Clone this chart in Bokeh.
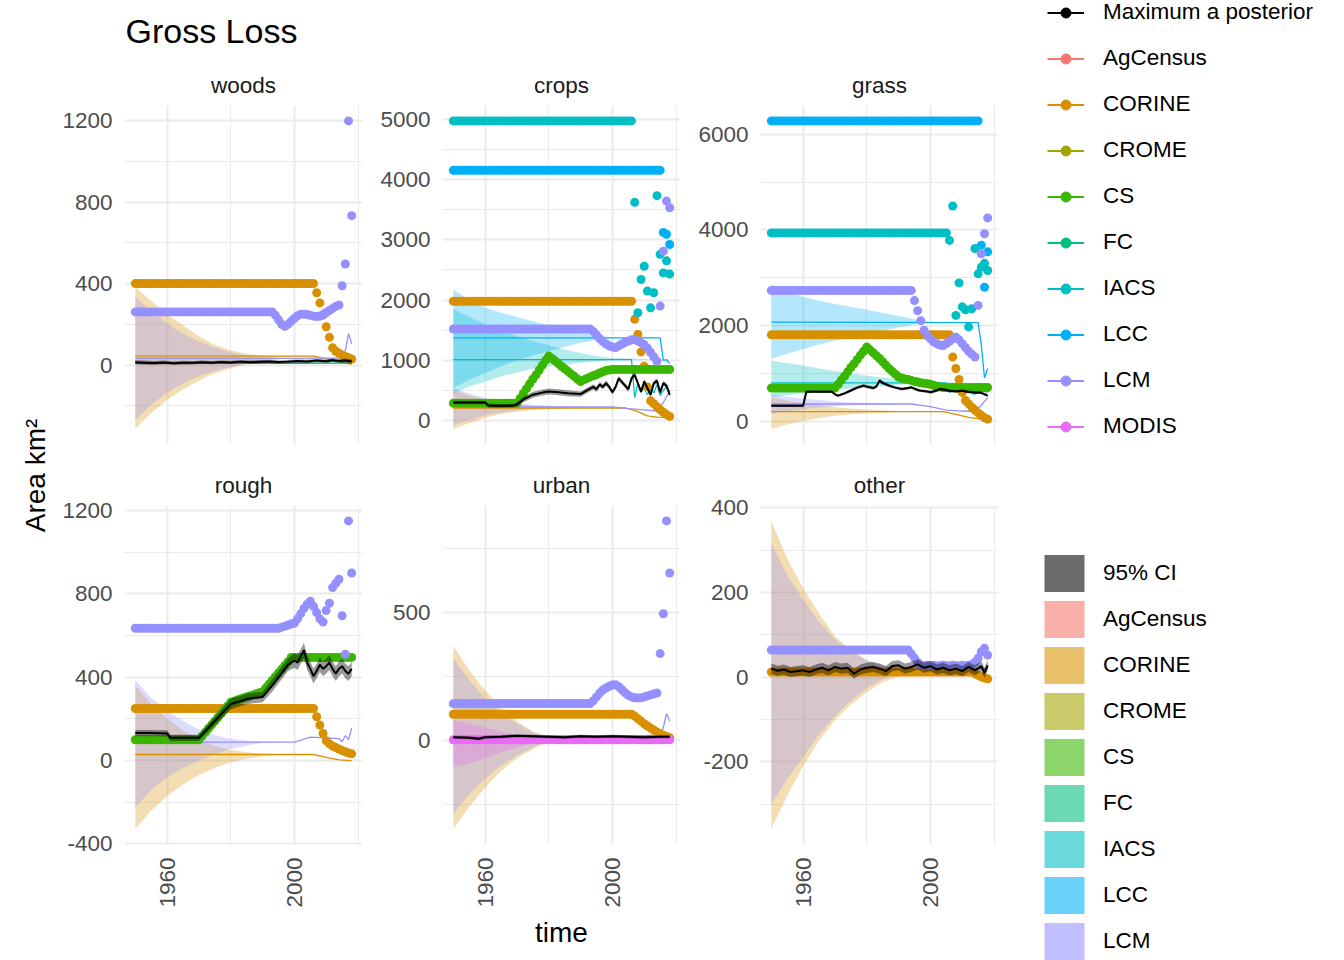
import math
from bokeh.plotting import figure
from bokeh.models import Range1d, FixedTicker, Label, Legend, LegendItem, Title
from bokeh.layouts import row, column
from bokeh.embed import file_html
from bokeh.resources import INLINE

FONT = "Liberation Sans"

# ---------------- data ----------------
SOURCES = ["AgCensus", "CORINE", "CROME", "CS", "FC", "IACS", "LCC", "LCM", "MODIS"]
COLORS = ["#F8766D", "#D89000", "#A3A500", "#39B600", "#00BF7D", "#00BFC4", "#00B0F6", "#9590FF", "#E76BF3"]
FILL_LEGEND = ["95% CI", "AgCensus", "CORINE", "CROME", "CS", "FC", "IACS", "LCC", "LCM"]
PANELS = ["woods", "crops", "grass", "rough", "urban", "other"]
YEARS = list(range(1950, 2019))
RIB_YEARS = [1950, 1955, 1960, 1965, 1970, 1975, 1980, 1985, 1990, 1995, 2000, 2018]
X_TICKS = [1960, 2000]
X_MINOR = [1940, 1980, 2020]

# woods
W_CORINE_PTS = [400] * 57 + [355, 305, 245, 188, 136, 85, 68, 58, 49, 42, 36, 30]
W_LCM_PTS = [261] * 44 + [245, 222, 200, 190, 200, 215, 230, 242, 250, 250, 248, 244, 240, 238,
                          240, 248, 258, 268, 278, 288, 295] + [389, 496, 1198, 733]
W_CORINE_LN_YR = [1950, 2006, 2008, 2011, 2014, 2016, 2018]
W_CORINE_LN = [44, 44, 38, 28, 18, 10, 5]
W_LCM_LN_YR = [1950, 2000, 2014, 2015, 2016, 2017, 2018]
W_LCM_LN = [33, 33, 35, 40, 70, 155, 105]
W_FC_LN_YR = [1950, 1980, 2000, 2018]
W_FC_LN = [8, 8, 9, 10]
W_CORINE_RIB_LO = [-314, -235, -170, -120, -75, -40, -15, 5, 25, 38, 44, 44]
W_CORINE_RIB_HI = [383, 315, 250, 195, 140, 98, 72, 56, 48, 45, 44, 44]
W_LCM_RIB_LO = [-270, -195, -135, -90, -55, -28, -10, 5, 18, 28, 33, 33]
W_LCM_RIB_HI = [335, 265, 205, 155, 115, 85, 62, 48, 40, 35, 33, 33]
W_MAP_YR = [1950, 1953, 1956, 1959, 1962, 1965, 1968, 1971, 1974, 1977, 1980, 1983, 1986, 1989,
            1992, 1995, 1998, 2001, 2004, 2007, 2010, 2012, 2014, 2016, 2018]
W_MAP = [14, 12, 10, 13, 9, 12, 11, 14, 12, 15, 13, 17, 14, 16, 18, 15, 17, 20, 18, 22, 19, 24, 20, 22, 18]
W_MAP_CI = [10, 10, 10, 9, 9, 9, 8, 8, 8, 8, 8, 8, 8, 8, 8, 8, 8, 8, 8, 8, 9, 9, 10, 10, 10]

# crops
C_IACS_PTS = [4970] * 57 + [3620, 1790, 2340, 2560, 2150, 1870, 2120, 3730, 2760, 2450, 2650, 2430]
C_LCC_PTS = [4150] * 66 + [3120, 3090, 2920]
C_LCM_PTS = [1520] * 44 + [1480, 1420, 1360, 1310, 1270, 1240, 1220, 1210, 1240, 1270, 1300, 1320,
                           1340, 1345, 1320, 1290, 1260, 1200, 1130, 1060, 985] + [1900, 2810, 3640, 3530]
C_CORINE_PTS = [1980] * 57 + [1680, 1430, 1140, 900, 560, 330, 280, 230, 180, 140, 100, 70]
C_CS_PTS = ([290] * 21 + [370, 450, 530, 610, 690, 760, 840, 920, 1000, 1070]
            + [1030, 990, 945, 900, 860, 820, 775, 735, 690, 650]
            + [675, 700, 725, 745, 765, 790, 810, 830, 840, 850] + [850] * 18)
C_LCC_LN_YR = [1950, 2015, 2016, 2017, 2018]
C_LCC_LN = [1374, 1374, 1000, 1010, 950]
C_IACS_LN_YR = [1950, 2006, 2007, 2008, 2009, 2010, 2011, 2012, 2013, 2014, 2015, 2016, 2017, 2018]
C_IACS_LN = [1013, 1013, 380, 620, 470, 560, 430, 520, 460, 600, 420, 500, 560, 480]
C_LCM_LN_YR = [1950, 2000, 2005, 2010, 2014, 2016, 2018]
C_LCM_LN = [227, 227, 200, 180, 160, 300, 487]
C_CORINE_LN_YR = [1950, 2004, 2008, 2011, 2014, 2018]
C_CORINE_LN = [210, 210, 150, 80, 60, 50]
C_LCC_RIB_LO = [543, 680, 792, 900, 1000, 1080, 1150, 1220, 1290, 1340, 1374, 1374]
C_LCC_RIB_HI = [2176, 2000, 1872, 1790, 1720, 1650, 1580, 1520, 1470, 1420, 1374, 1374]
C_IACS_RIB_LO = [450, 560, 650, 730, 800, 860, 900, 930, 960, 985, 1000, 1013]
C_IACS_RIB_HI = [1850, 1720, 1600, 1500, 1400, 1320, 1250, 1180, 1120, 1070, 1040, 1013]
C_CORINE_RIB_LO = [-140, -40, 50, 110, 150, 175, 190, 200, 205, 208, 210, 210]
C_CORINE_RIB_HI = [500, 420, 350, 305, 270, 245, 230, 220, 215, 212, 210, 210]
C_LCM_RIB_LO = [-80, 20, 90, 140, 170, 195, 210, 218, 225, 227, 227, 227]
C_LCM_RIB_HI = [540, 450, 380, 330, 290, 265, 250, 240, 230, 228, 227, 227]
C_MAP_YR = [1950, 1955, 1960, 1961, 1965, 1969, 1970, 1972, 1975, 1978, 1980, 1983, 1986, 1990,
            1992, 1994, 1995, 1996, 1997, 1998, 1999, 2000, 2001, 2002, 2003, 2004, 2005, 2006,
            2007, 2008, 2009, 2010, 2011, 2012, 2013, 2014, 2015, 2016, 2017, 2018]
C_MAP = [300, 300, 300, 250, 245, 250, 270, 350, 430, 465, 485, 470, 455, 440, 500, 560, 520, 600,
         560, 620, 560, 470, 560, 700, 640, 580, 520, 700, 760, 620, 480, 650, 540, 430, 620, 660,
         470, 620, 580, 430]
C_MAP_CI = [30, 30, 30, 30, 30, 30, 35, 45, 50, 50, 50, 50, 50, 45, 45, 45, 45, 45, 45, 45, 40, 40,
            40, 40, 40, 40, 40, 40, 40, 40, 40, 40, 40, 40, 40, 40, 40, 40, 40, 40]

# grass
G_LCC_PTS = [6280] * 66 + [3680, 2800, 3540]
G_IACS_PTS = [3937] * 56 + [3780, 4500, 2210, 2890, 2390, 2330, 1970, 2350, 3610, 3080, 3220, 3300, 3150]
G_LCM_PTS = [2734] * 45 + [2520, 2310, 2100, 1900, 1790, 1720, 1660, 1620, 1590, 1580, 1620, 1670,
                           1720, 1755, 1700, 1620, 1540, 1460, 1400, 1340] + [2420, 3500, 3920, 4250]
G_CORINE_PTS = [1804] * 57 + [1340, 1100, 870, 600, 430, 360, 290, 230, 170, 120, 70, 40]
G_CS_PTS = ([690] * 21 + [770, 860, 940, 1030, 1120, 1200, 1290, 1380, 1460, 1550]
            + [1490, 1430, 1370, 1310, 1240, 1170, 1100, 1040, 980, 920]
            + [900, 880, 870, 850, 830, 815, 800, 790, 780, 770] + [750, 730, 715] + [700] * 15)
G_LCC_LN_YR = [1950, 2015, 2016, 2017, 2018]
G_LCC_LN = [2070, 2060, 1600, 900, 1100]
G_IACS_LN_YR = [1950, 2005, 2006, 2008, 2010, 2012, 2014, 2016, 2018]
G_IACS_LN = [797, 797, 600, 650, 550, 620, 560, 640, 600]
G_LCM_LN_YR = [1950, 1994, 2000, 2005, 2010, 2014, 2016, 2018]
G_LCM_LN = [357, 357, 300, 230, 210, 200, 330, 490]
G_CORINE_LN_YR = [1950, 2004, 2008, 2012, 2015, 2018]
G_CORINE_LN = [196, 196, 140, 77, 50, 40]
G_LCC_RIB_LO = [1300, 1410, 1510, 1600, 1680, 1750, 1820, 1890, 1960, 2020, 2070, 2070]
G_LCC_RIB_HI = [2853, 2720, 2595, 2520, 2450, 2390, 2330, 2260, 2200, 2130, 2070, 2070]
G_IACS_RIB_LO = [497, 540, 580, 620, 650, 680, 710, 735, 760, 780, 797, 797]
G_IACS_RIB_HI = [1265, 1210, 1160, 1100, 1050, 1000, 950, 910, 870, 830, 810, 797]
G_CORINE_RIB_LO = [-168, -70, 0, 65, 110, 140, 160, 175, 185, 192, 196, 196]
G_CORINE_RIB_HI = [500, 430, 380, 330, 290, 265, 240, 225, 210, 200, 196, 196]
G_LCM_RIB_LO = [150, 205, 250, 285, 310, 325, 340, 348, 355, 357, 357, 357]
G_LCM_RIB_HI = [566, 510, 470, 440, 410, 395, 380, 370, 360, 358, 357, 357]
G_MAP_YR = [1950, 1955, 1960, 1961, 1965, 1969, 1970, 1971, 1973, 1975, 1977, 1979, 1980, 1982,
            1983, 1984, 1985, 1987, 1989, 1991, 1993, 1994, 1996, 1997, 1999, 2000, 2002, 2003,
            2005, 2006, 2008, 2010, 2012, 2014, 2016, 2018]
G_MAP = [321, 321, 321, 615, 615, 615, 560, 531, 580, 640, 700, 741, 720, 690, 720, 845, 800, 741,
         700, 671, 690, 706, 650, 636, 620, 602, 640, 671, 650, 636, 620, 636, 610, 600, 590, 531]
G_MAP_CI = [25, 25, 25, 25, 25, 25, 25, 25, 30, 30, 30, 35, 35, 35, 35, 40, 40, 35, 30, 30, 30, 30,
            30, 30, 30, 30, 30, 30, 30, 30, 30, 30, 30, 30, 30, 30]

# rough
R_LCM_PTS = [635] * 46 + [640, 645, 650, 655, 660, 680, 705, 730, 750, 765, 740, 710, 680, 665, 720,
                          755, 830, 850, 870] + [695, 510, 1150, 900]
R_CS_PTS = ([100] * 21 + [118, 136, 154, 172, 190, 208, 226, 244, 262, 280]
            + [285, 290, 295, 300, 305, 310, 315, 320, 325, 330]
            + [348, 366, 384, 402, 420, 438, 456, 474, 495] + [495] * 19)
R_CORINE_PTS = [250] * 57 + [210, 170, 130, 95, 80, 70, 62, 55, 48, 42, 36, 32]
R_LCM_LN_YR = [1950, 2000, 2005, 2014, 2015, 2016, 2017, 2018]
R_LCM_LN = [88, 88, 112, 105, 90, 120, 100, 155]
R_CORINE_LN_YR = [1950, 2006, 2010, 2014, 2018]
R_CORINE_LN = [29, 29, 15, 3, 0]
R_CORINE_RIB_LO = [-329, -240, -170, -115, -70, -35, -10, 8, 20, 27, 29, 29]
R_CORINE_RIB_HI = [360, 270, 200, 145, 100, 70, 50, 40, 32, 30, 29, 29]
R_LCM_RIB_LO = [-225, -140, -80, -35, 0, 30, 55, 72, 85, 88, 88, 88]
R_LCM_RIB_HI = [386, 300, 240, 190, 150, 120, 105, 96, 90, 89, 88, 88]
R_MAP_YR = [1950, 1955, 1960, 1961, 1965, 1970, 1975, 1980, 1983, 1985, 1987, 1990, 1993, 1996,
            1998, 2000, 2001, 2003, 2004, 2005, 2006, 2007, 2008, 2009, 2010, 2011, 2012, 2013,
            2014, 2015, 2016, 2017, 2018]
R_MAP = [132, 132, 130, 109, 109, 109, 190, 271, 285, 295, 300, 305, 360, 420, 460, 480, 470, 530,
         470, 440, 405, 430, 460, 440, 453, 470, 440, 417, 440, 453, 430, 417, 440]
R_MAP_CI = [15, 15, 15, 15, 15, 15, 20, 25, 25, 25, 25, 25, 30, 30, 30, 35, 35, 35, 35, 35, 35, 35,
            35, 35, 35, 35, 35, 35, 35, 35, 35, 35, 35]

# urban
U_LCM_PTS = [144] * 44 + [155, 170, 185, 197, 205, 212, 217, 218, 210, 198, 186, 176, 170, 167, 166,
                          167, 170, 174, 178, 182, 185] + [340, 496, 860, 656]
U_CORINE_PTS = [102] * 57 + [95, 85, 75, 65, 56, 48, 40, 33, 26, 20, 15, 10]
U_MODIS_PTS = [2] * 69
U_LCM_LN_YR = [1950, 2000, 2010, 2015, 2016, 2017, 2018]
U_LCM_LN = [12, 14, 18, 20, 50, 105, 75]
U_CORINE_LN_YR = [1950, 2018]
U_CORINE_LN = [8, 8]
U_MODIS_LN_YR = [1950, 2018]
U_MODIS_LN = [2, 2]
U_CORINE_RIB_LO = [-348, -260, -185, -120, -70, -35, -5, 5, 8, 8, 8, 8]
U_CORINE_RIB_HI = [370, 275, 195, 130, 75, 35, 12, 9, 8, 8, 8, 8]
U_LCM_RIB_LO = [-289, -210, -150, -100, -60, -28, 0, 10, 12, 12, 12, 12]
U_LCM_RIB_HI = [322, 235, 165, 110, 65, 32, 14, 12, 12, 12, 12, 12]
U_MODIS_RIB_LO = [-105, -90, -70, -48, -28, -12, -2, 2, 2, 2, 2, 2]
U_MODIS_RIB_HI = [79, 65, 50, 35, 20, 9, 3, 2, 2, 2, 2, 2]
U_MAP_YR = [1950, 1955, 1958, 1960, 1965, 1970, 1975, 1980, 1985, 1990, 1995, 2000, 2005, 2010, 2015, 2018]
U_MAP = [12, 10, 6, 12, 14, 18, 16, 14, 12, 16, 14, 16, 14, 12, 14, 14]
U_MAP_CI = [6, 6, 6, 6, 6, 6, 6, 6, 6, 6, 6, 6, 6, 6, 6, 6]

# other
O_LCM_PTS = [64] * 44 + [55, 45, 35, 28, 27, 28, 27, 28, 26, 27, 28, 27, 26, 28, 27, 26, 28, 27, 28,
                         30, 35, 45, 60, 68, 52]
O_CORINE_PTS = [12] * 64 + [8, 4, 1, -2, -4]
O_CORINE_LN_YR = [1950, 2012, 2018]
O_CORINE_LN = [10, 10, 2]
O_LCM_LN_YR = [1950, 2018]
O_LCM_LN = [20, 20]
O_CORINE_RIB_LO = [-359, -280, -210, -150, -102, -65, -35, -12, 2, 10, 10, 10]
O_CORINE_RIB_HI = [369, 280, 210, 150, 96, 65, 40, 22, 12, 10, 10, 10]
O_LCM_RIB_LO = [-300, -240, -189, -135, -92, -55, -25, -5, 12, 20, 20, 20]
O_LCM_RIB_HI = [317, 240, 183, 130, 90, 60, 40, 28, 22, 20, 20, 20]
O_MAP_YR = list(range(1950, 2017, 2)) + [2017, 2018]
O_MAP = [20, 15, 18, 12, 14, 16, 12, 18, 22, 16, 24, 20, 22, 8, 18, 22, 24, 20, 14, 26, 28, 20, 24,
         30, 22, 26, 18, 22, 16, 20, 14, 24, 16, 26, 10, 28]
O_MAP_CI = [12, 12, 12, 12, 12, 12, 12, 12, 12, 12, 12, 12, 12, 12, 12, 12, 12, 12, 12, 12, 12, 12,
            12, 12, 12, 12, 12, 12, 12, 12, 12, 12, 12, 12, 12, 12]

Y_TICKS = {
    "woods": ([0, 400, 800, 1200], [-400, -200, 200, 600, 1000]),
    "crops": ([0, 1000, 2000, 3000, 4000, 5000], [-500, 500, 1500, 2500, 3500, 4500]),
    "grass": ([0, 2000, 4000, 6000], [-1000, 1000, 3000, 5000]),
    "rough": ([-400, 0, 400, 800, 1200], [-200, 200, 600, 1000]),
    "urban": ([-500, 0, 500], [-250, 250, 750]),
    "other": ([-200, 0, 200, 400], [-300, -100, 100, 300]),
}

COL = dict(zip(SOURCES, COLORS))

PANEL_DATA = {
    "woods": dict(
        ribs=[("CORINE", W_CORINE_RIB_LO, W_CORINE_RIB_HI), ("LCM", W_LCM_RIB_LO, W_LCM_RIB_HI)],
        lines=[("CORINE", W_CORINE_LN_YR, W_CORINE_LN), ("FC", W_FC_LN_YR, W_FC_LN),
               ("LCM", W_LCM_LN_YR, W_LCM_LN)],
        pts=[("CORINE", W_CORINE_PTS), ("LCM", W_LCM_PTS)],
        map=(W_MAP_YR, W_MAP, W_MAP_CI)),
    "crops": dict(
        ribs=[("CORINE", C_CORINE_RIB_LO, C_CORINE_RIB_HI), ("IACS", C_IACS_RIB_LO, C_IACS_RIB_HI),
              ("LCC", C_LCC_RIB_LO, C_LCC_RIB_HI), ("LCM", C_LCM_RIB_LO, C_LCM_RIB_HI)],
        lines=[("CORINE", C_CORINE_LN_YR, C_CORINE_LN), ("IACS", C_IACS_LN_YR, C_IACS_LN),
               ("LCC", C_LCC_LN_YR, C_LCC_LN), ("LCM", C_LCM_LN_YR, C_LCM_LN)],
        pts=[("CORINE", C_CORINE_PTS), ("CS", C_CS_PTS), ("IACS", C_IACS_PTS),
             ("LCC", C_LCC_PTS), ("LCM", C_LCM_PTS)],
        map=(C_MAP_YR, C_MAP, C_MAP_CI)),
    "grass": dict(
        ribs=[("CORINE", G_CORINE_RIB_LO, G_CORINE_RIB_HI), ("IACS", G_IACS_RIB_LO, G_IACS_RIB_HI),
              ("LCC", G_LCC_RIB_LO, G_LCC_RIB_HI), ("LCM", G_LCM_RIB_LO, G_LCM_RIB_HI)],
        lines=[("CORINE", G_CORINE_LN_YR, G_CORINE_LN), ("IACS", G_IACS_LN_YR, G_IACS_LN),
               ("LCC", G_LCC_LN_YR, G_LCC_LN), ("LCM", G_LCM_LN_YR, G_LCM_LN)],
        pts=[("CORINE", G_CORINE_PTS), ("CS", G_CS_PTS), ("IACS", G_IACS_PTS),
             ("LCC", G_LCC_PTS), ("LCM", G_LCM_PTS)],
        map=(G_MAP_YR, G_MAP, G_MAP_CI)),
    "rough": dict(
        ribs=[("CORINE", R_CORINE_RIB_LO, R_CORINE_RIB_HI), ("LCM", R_LCM_RIB_LO, R_LCM_RIB_HI)],
        lines=[("CORINE", R_CORINE_LN_YR, R_CORINE_LN), ("LCM", R_LCM_LN_YR, R_LCM_LN)],
        pts=[("CORINE", R_CORINE_PTS), ("CS", R_CS_PTS), ("LCM", R_LCM_PTS)],
        map=(R_MAP_YR, R_MAP, R_MAP_CI)),
    "urban": dict(
        ribs=[("CORINE", U_CORINE_RIB_LO, U_CORINE_RIB_HI), ("LCM", U_LCM_RIB_LO, U_LCM_RIB_HI),
              ("MODIS", U_MODIS_RIB_LO, U_MODIS_RIB_HI)],
        lines=[("CORINE", U_CORINE_LN_YR, U_CORINE_LN), ("LCM", U_LCM_LN_YR, U_LCM_LN),
               ("MODIS", U_MODIS_LN_YR, U_MODIS_LN)],
        pts=[("CORINE", U_CORINE_PTS), ("LCM", U_LCM_PTS), ("MODIS", U_MODIS_PTS)],
        map=(U_MAP_YR, U_MAP, U_MAP_CI)),
    "other": dict(
        ribs=[("CORINE", O_CORINE_RIB_LO, O_CORINE_RIB_HI), ("LCM", O_LCM_RIB_LO, O_LCM_RIB_HI)],
        lines=[("CORINE", O_CORINE_LN_YR, O_CORINE_LN), ("LCM", O_LCM_LN_YR, O_LCM_LN)],
        pts=[("CORINE", O_CORINE_PTS), ("LCM", O_LCM_PTS)],
        map=(O_MAP_YR, O_MAP, O_MAP_CI)),
}

# ---------------- layout constants ----------------
FRAME_W, FRAME_H = 238, 339
LEFT_B = 80
LEFT_B_FIRST = 72
GRID_COLOR = "#EBEBEB"
TICK_COLOR = "#4D4D4D"


def x_range():
    lo, hi = min(YEARS), max(YEARS)
    pad = 0.05 * (hi - lo)
    return Range1d(lo - pad, hi + pad)


def make_panel(name, bottom_row, first_col, xlabel=None):
    d = PANEL_DATA[name]
    map_yr, map_val, map_ci = d["map"]
    map_lo = [m - c for m, c in zip(map_val, map_ci)]
    map_hi = [m + c for m, c in zip(map_val, map_ci)]
    vals = map_lo + map_hi
    for _, v in d["pts"]:
        vals += v
    for _, _, v in d["lines"]:
        vals += v
    for _, lo, hi in d["ribs"]:
        vals += lo + hi
    ylo, yhi = min(vals), max(vals)
    pad = 0.05 * (yhi - ylo)

    p = figure(frame_width=FRAME_W, frame_height=FRAME_H, x_range=x_range(),
               y_range=Range1d(ylo - pad, yhi + pad),
               min_border_left=LEFT_B_FIRST if first_col else LEFT_B, min_border_right=0,
               min_border_top=45 if bottom_row else 47,
               min_border_bottom=101 if bottom_row else 16,
               toolbar_location=None, output_backend="svg", title=name,
               outline_line_color=None, background_fill_color="white",
               border_fill_color="white")
    # small spacer between the frame and the strip label
    p.add_layout(Title(text=" ", text_font_size="1px", standoff=0), "above")
    p.title.align = "center"
    p.title.text_font = FONT
    p.title.text_font_size = "22.5px"
    p.title.text_font_style = "normal"
    p.title.text_color = "#1A1A1A"

    yt, ym = Y_TICKS[name]
    xt = FixedTicker(ticks=X_TICKS, minor_ticks=X_MINOR)
    ytk = FixedTicker(ticks=yt, minor_ticks=ym)
    p.xaxis.ticker = xt
    p.yaxis.ticker = ytk
    p.xgrid.ticker = xt
    p.ygrid.ticker = ytk
    for g in (p.xgrid, p.ygrid):
        g.grid_line_color = GRID_COLOR
        g.grid_line_width = 2
        g.minor_grid_line_color = GRID_COLOR
        g.minor_grid_line_width = 1.1

    for ax in (p.xaxis, p.yaxis):
        ax.axis_line_color = None
        ax.major_tick_line_color = None
        ax.minor_tick_line_color = None
        ax.major_tick_out = 0
        ax.major_tick_in = 0
        ax.minor_tick_out = 0
        ax.minor_tick_in = 0
        ax.major_label_text_font = FONT
        ax.major_label_text_font_size = "22.5px"
        ax.major_label_text_color = TICK_COLOR
    p.yaxis.major_label_standoff = 12
    p.yaxis.major_label_overrides = {v: str(v) for v in yt}
    p.xaxis.major_label_overrides = {v: str(v) for v in X_TICKS}
    if bottom_row:
        p.xaxis.major_label_orientation = math.pi / 2
        p.xaxis.major_label_standoff = 13
        if xlabel:
            p.xaxis.axis_label = xlabel
            p.xaxis.axis_label_text_font = FONT
            p.xaxis.axis_label_text_font_size = "28px"
            p.xaxis.axis_label_text_font_style = "normal"
            p.xaxis.axis_label_text_color = "black"
            p.xaxis.axis_label_standoff = 6
    else:
        p.xaxis.visible = False

    # ribbons
    for src, lo, hi in d["ribs"]:
        p.varea(x=RIB_YEARS, y1=lo, y2=hi, fill_color=COL[src], fill_alpha=0.3)
    # thin per-source lines
    for src, yr, v in d["lines"]:
        p.line(x=yr, y=v, line_color=COL[src], line_width=1.3)
    # observed points
    for src, v in d["pts"]:
        p.scatter(x=YEARS, y=v, marker="circle", size=9, fill_color=COL[src], line_color=None)
    # MAP + CI
    p.varea(x=map_yr, y1=map_lo, y2=map_hi, fill_color="black", fill_alpha=0.4)
    p.line(x=map_yr, y=map_val, line_color="black", line_width=2)
    return p


panels = []
for i, name in enumerate(PANELS):
    panels.append(make_panel(name, i >= 3, i % 3 == 0, xlabel="time" if name == "urban" else None))


def blank(w, h):
    f = figure(frame_width=w, frame_height=h, x_range=Range1d(0, w), y_range=Range1d(0, h),
               min_border=0, toolbar_location=None, output_backend="svg",
               outline_line_color=None, background_fill_color="white", border_fill_color="white")
    f.axis.visible = False
    f.grid.visible = False
    return f


TITLE_H = 58
YLAB_W = 52
GRID_H = 945 - TITLE_H
LEG_W, LEG_H = 338, 960

title_fig = blank(YLAB_W + LEFT_B_FIRST + FRAME_W + 2 * (LEFT_B + FRAME_W), TITLE_H)
title_fig.add_layout(Label(x=125, y=28, text="Gross Loss", text_font=FONT, text_font_size="34px",
                           text_color="black", text_align="left", text_baseline="middle"))

ylab_fig = blank(YLAB_W, GRID_H)
ylab_fig.add_layout(Label(x=35, y=470, text="Area km²", text_font=FONT, text_font_size="28px",
                          text_color="black", text_align="center", text_baseline="middle",
                          angle=math.pi / 2))

NAN = float("nan")
leg_fig = blank(LEG_W, LEG_H)
items1 = []
for name, color in [("Maximum a posterior", "black")] + list(zip(SOURCES, COLORS)):
    r1 = leg_fig.line(x=[NAN, NAN], y=[NAN, NAN], line_color=color, line_width=2)
    r2 = leg_fig.scatter(x=[NAN], y=[NAN], marker="circle", size=9, fill_color=color, line_color=color)
    items1.append(LegendItem(label=name, renderers=[r1, r2]))
leg1 = Legend(items=items1, location=(49, 513), orientation="vertical", glyph_width=37,
              glyph_height=25, label_height=42, spacing=4, padding=0, margin=0,
              border_line_color=None, background_fill_alpha=0, label_text_font=FONT,
              label_text_font_size="22.5px", label_text_color="black", label_standoff=19)
leg_fig.add_layout(leg1)

items2 = []
for name in FILL_LEGEND:
    color = "black" if name == "95% CI" else COL[name]
    r = leg_fig.varea(x=[NAN, NAN], y1=[NAN, NAN], y2=[NAN, NAN], fill_color=color, fill_alpha=0.58)
    items2.append(LegendItem(label=name, renderers=[r]))
leg2 = Legend(items=items2, location=(41, -4), orientation="vertical", glyph_width=50,
              glyph_height=46, label_height=42, spacing=0, padding=0, margin=0,
              border_line_color=None, background_fill_alpha=0, label_text_font=FONT,
              label_text_font_size="22.5px", label_text_color="black", label_standoff=14)
leg_fig.add_layout(leg2)

grid_block = column(row(*panels[:3]), row(*panels[3:]))
left = column(title_fig, row(ylab_fig, grid_block))
layout = row(left, leg_fig)

open("out.html", "w").write(file_html(layout, INLINE, title="Gross Loss"))
